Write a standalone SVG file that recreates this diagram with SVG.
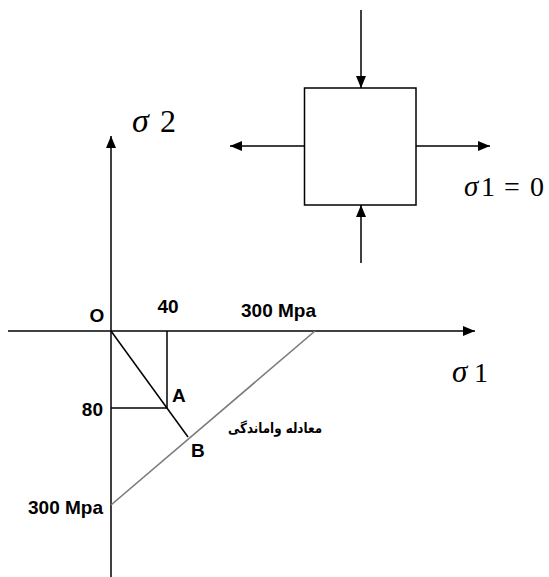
<svg xmlns="http://www.w3.org/2000/svg" width="549" height="577" viewBox="0 0 549 577">
<style>
.ln{stroke:#000;stroke-width:1.5;fill:none}
.gr{stroke:#7a7a7a;stroke-width:1.6;fill:none}
.lb{font-family:"Liberation Sans",Arial,sans-serif;font-weight:bold;font-size:19px;fill:#000}
.sg{font-family:"Liberation Serif","Times New Roman",serif;font-size:28px;fill:#000}
.fa{font-family:"DejaVu Sans",sans-serif;font-weight:bold;font-size:14px;fill:#000}
</style>
<defs>
<marker id="ah" viewBox="0 0 12 10" refX="12" refY="5" markerWidth="12" markerHeight="10" markerUnits="userSpaceOnUse" orient="auto">
<path d="M0,0 L12,5 L0,10 Z" fill="#000"/>
</marker>
</defs>
<rect width="549" height="577" fill="#fff"/>
<g id="axes">
<line class="ln" x1="111" y1="577" x2="111" y2="136" marker-end="url(#ah)"/>
<line class="ln" x1="8" y1="331" x2="475" y2="331" marker-end="url(#ah)"/>
</g>
<g id="element">
<rect class="ln" x="304.5" y="88" width="111.5" height="117"/>
</g>
<g id="connectors">
<line class="ln" x1="361" y1="10" x2="361" y2="88" marker-end="url(#ah)"/>
<line class="ln" x1="361" y1="263" x2="361" y2="205" marker-end="url(#ah)"/>
<line class="ln" x1="304" y1="146" x2="230" y2="146" marker-end="url(#ah)"/>
<line class="ln" x1="416" y1="146" x2="490" y2="146" marker-end="url(#ah)"/>
<line class="ln" x1="167" y1="331" x2="167" y2="408"/>
<line class="ln" x1="111" y1="408" x2="167" y2="408"/>
<line class="ln" x1="111" y1="331" x2="188" y2="437"/>
<line class="gr" x1="111" y1="505" x2="315" y2="331"/>
</g>
<g id="labels">
<text class="lb" x="97" y="322" text-anchor="middle">O</text>
<text class="lb" x="168" y="313" text-anchor="middle">40</text>
<text class="lb" x="241" y="317">300 Mpa</text>
<text class="lb" x="103" y="416" text-anchor="end">80</text>
<text class="lb" x="172" y="402">A</text>
<text class="lb" x="191" y="457">B</text>
<text class="lb" x="103" y="514" text-anchor="end">300 Mpa</text>
<text class="fa" transform="translate(322,433) scale(0.85,1)" x="0" y="0" text-anchor="end">معادله واماندگی</text>
<text class="sg" y="132"><tspan x="132" font-size="34" font-style="italic">σ</tspan><tspan x="160" font-size="32">2</tspan></text>
<text class="sg" y="382"><tspan x="452" font-size="31" font-style="italic">σ</tspan><tspan x="474">1</tspan></text>
<text class="sg" y="196"><tspan x="464" font-size="29" font-style="italic">σ</tspan><tspan x="481">1</tspan><tspan x="504">=</tspan><tspan x="530">0</tspan></text>
</g>
</svg>
